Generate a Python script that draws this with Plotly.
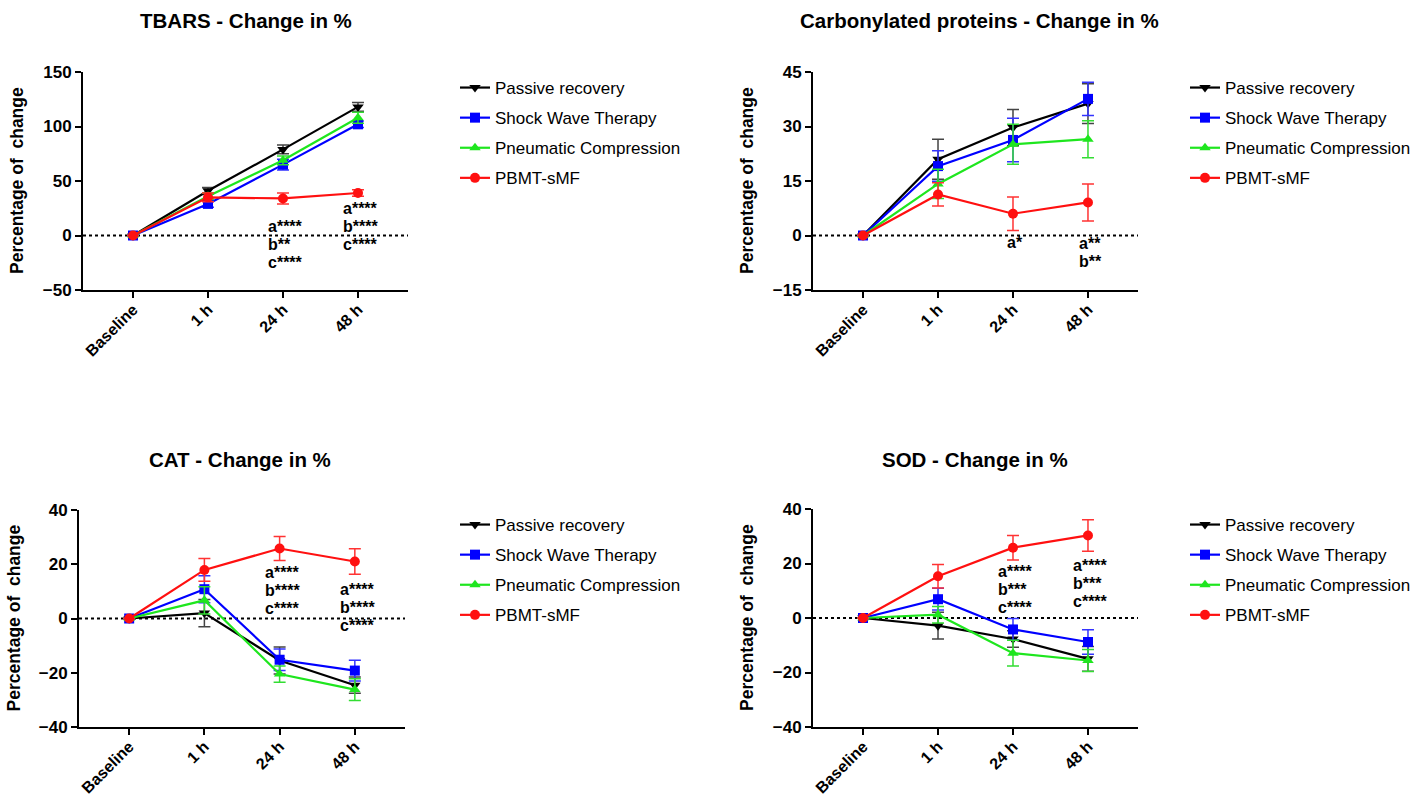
import plotly.graph_objects as go

W, H = 1419, 798

timepoints = ["Baseline", "1 h", "24 h", "48 h"]
groups = ["Passive recovery", "Shock Wave Therapy", "Pneumatic Compression", "PBMT-sMF"]

# TBARS
tbars_passive = [0, 41, 79, 118]
tbars_passive_err = [0, 3, 4, 4]
tbars_swt = [0, 29, 65, 102]
tbars_swt_err = [0, 3, 5, 3]
tbars_pneu = [0, 36, 69, 108]
tbars_pneu_err = [0, 3, 4, 5]
tbars_pbmt = [0, 35, 34, 39]
tbars_pbmt_err = [0, 4, 5, 3]

# Carbonylated proteins
carb_passive = [0, 21.0, 29.7, 36.3]
carb_passive_err = [0, 5.5, 5.0, 5.5]
carb_swt = [0, 19.1, 26.3, 37.6]
carb_swt_err = [0, 4.2, 6.0, 4.6]
carb_pneu = [0, 14.2, 25.1, 26.5]
carb_pneu_err = [0, 4.0, 5.5, 5.1]
carb_pbmt = [0, 11.3, 6.0, 9.1]
carb_pbmt_err = [0, 3.2, 4.6, 5.1]

# CAT
cat_passive = [0, 2.0, -15.5, -24.6]
cat_passive_err = [0, 5.0, 5.0, 3.0]
cat_swt = [0, 10.8, -15.2, -19.2]
cat_swt_err = [0, 5.0, 4.0, 3.8]
cat_pneu = [0, 6.7, -20.5, -26.2]
cat_pneu_err = [0, 5.0, 3.0, 4.0]
cat_pbmt = [0, 17.9, 25.8, 21.0]
cat_pbmt_err = [0, 4.2, 4.4, 4.7]

# SOD
sod_passive = [0, -2.8, -7.7, -15.0]
sod_passive_err = [0, 4.9, 3.0, 4.5]
sod_swt = [0, 6.9, -4.2, -8.8]
sod_swt_err = [0, 4.0, 4.0, 4.5]
sod_pneu = [0, 1.2, -12.9, -15.6]
sod_pneu_err = [0, 3.0, 4.7, 4.0]
sod_pbmt = [0, 15.3, 25.8, 30.3]
sod_pbmt_err = [0, 4.3, 4.5, 5.8]

titles = ["TBARS - Change in %", "Carbonylated proteins - Change in %",
          "CAT - Change in %", "SOD - Change in %"]
y_ranges = [[-50, 150], [-15, 45], [-40, 40], [-40, 40]]
y_dticks = [50, 15, 20, 20]

# significance labels: (timepoint, lines, y-centre in data units)
sig_tbars = [("24 h", ["a****", "b**", "c****"], -8.7), ("48 h", ["a****", "b****", "c****"], 8.7)]
sig_carb = [("24 h", ["a*"], -1.8), ("48 h", ["a**", "b**"], -4.7)]
sig_cat = [("24 h", ["a****", "b****", "c****"], 10.5), ("48 h", ["a****", "b****", "c****"], 3.9)]
sig_sod = [("24 h", ["a****", "b***", "c****"], 10.3), ("48 h", ["a****", "b***", "c****"], 12.5)]

panels = [
    [(tbars_passive, tbars_passive_err), (tbars_swt, tbars_swt_err), (tbars_pneu, tbars_pneu_err), (tbars_pbmt, tbars_pbmt_err)],
    [(carb_passive, carb_passive_err), (carb_swt, carb_swt_err), (carb_pneu, carb_pneu_err), (carb_pbmt, carb_pbmt_err)],
    [(cat_passive, cat_passive_err), (cat_swt, cat_swt_err), (cat_pneu, cat_pneu_err), (cat_pbmt, cat_pbmt_err)],
    [(sod_passive, sod_passive_err), (sod_swt, sod_swt_err), (sod_pneu, sod_pneu_err), (sod_pbmt, sod_pbmt_err)],
]
sigs = [sig_tbars, sig_carb, sig_cat, sig_sod]

colors = ["#000000", "#0000FF", "#1EE61E", "#FF1010"]
err_colors = ["#444444", "#3333FF", "#33DD33", "#FF3333"]
symbols = ["triangle-down", "square", "triangle-up", "circle"]

# pixel geometry of each panel: (x_left, x_right, y_top, y_bottom)
geom = [(83, 408, 72, 290), (813, 1138, 72, 290), (79, 405, 510, 727), (813, 1138, 509, 727)]
title_pos = [(246, 21), (979, 21), (240, 459), (975, 459)]
legend_pos = [(455, 70), (1185, 70), (455, 507), (1185, 507)]

FONT = "Liberation Sans, Arial, sans-serif"
SIG_SIZE = 16
SIG_LINE = 18

fig = go.Figure()
for p in range(4):
    xa = "x" if p == 0 else f"x{p+1}"
    ya = "y" if p == 0 else f"y{p+1}"
    leg = "legend" if p == 0 else f"legend{p+1}"
    for g in range(4):
        vals, errs = panels[p][g]
        fig.add_trace(go.Scatter(
            x=timepoints, y=vals, xaxis=xa, yaxis=ya, name=groups[g],
            legend=leg, legendgroup=f"{p}-{g}",
            mode="lines+markers",
            line=dict(color=colors[g], width=2.2),
            marker=dict(symbol=symbols[g], size=10, color=colors[g]),
            error_y=dict(type="data", array=errs, visible=True, color=err_colors[g],
                         thickness=1.5, width=6),
        ))

layout = dict(width=W, height=H,
              margin=dict(l=0, r=0, t=0, b=0, pad=0, autoexpand=False),
              paper_bgcolor="white", plot_bgcolor="white", showlegend=True,
              font=dict(family=FONT, color="black"))
annotations = []
shapes = []
for p in range(4):
    xl, xr, yt, yb = geom[p]
    xkey = "xaxis" if p == 0 else f"xaxis{p+1}"
    ykey = "yaxis" if p == 0 else f"yaxis{p+1}"
    xref = "x" if p == 0 else f"x{p+1}"
    yref = "y" if p == 0 else f"y{p+1}"
    layout[xkey] = dict(
        domain=[xl / W, xr / W], anchor=yref, type="category", automargin=False,
        range=[-0.667, 3.667], showgrid=False, zeroline=False,
        showline=True, linecolor="black", linewidth=2,
        ticks="outside", ticklen=6, tickwidth=2, tickcolor="black",
        tickangle=-45, ticklabelstandoff=-4,
        tickfont=dict(size=16, family=FONT, weight="bold"),
    )
    layout[ykey] = dict(
        domain=[1 - yb / H, 1 - yt / H], anchor=xref, automargin=False,
        range=y_ranges[p], dtick=y_dticks[p], tick0=0,
        showgrid=False, zeroline=False,
        showline=True, linecolor="black", linewidth=2,
        ticks="outside", ticklen=6, tickwidth=2, tickcolor="black",
        tickfont=dict(size=17, family=FONT, weight="bold"),
    )
    # y-axis title
    annotations.append(dict(
        text="<b>Percentage of  change</b>", textangle=-90,
        x=(xl - 66) / W, y=1 - ((yt + yb) / 2) / H, xref="paper", yref="paper",
        showarrow=False, font=dict(size=17.5, family=FONT), xanchor="center", yanchor="middle"))
    # panel title
    tx, ty = title_pos[p]
    annotations.append(dict(
        text=f"<b>{titles[p]}</b>", x=tx / W, y=1 - ty / H, xref="paper", yref="paper",
        showarrow=False, font=dict(size=20.5, family=FONT), xanchor="center", yanchor="middle"))
    # zero dotted line
    shapes.append(dict(type="line", xref=f"{xref} domain", yref=yref, x0=0, x1=1, y0=0, y1=0,
                       line=dict(color="black", width=2, dash="dot"), layer="below"))
    # significance labels (one annotation per line, left-aligned block centred on the time point)
    for tp, lines, yc in sigs[p]:
        block_w = max(SIG_SIZE * (0.556 + 0.389 * (len(ln) - 1)) for ln in lines)
        n = len(lines)
        for i, ln in enumerate(lines):
            annotations.append(dict(
                text=f"<b>{ln}</b>", x=tp, y=yc, xref=xref, yref=yref, showarrow=False,
                xanchor="left", yanchor="middle", xshift=-block_w / 2,
                yshift=((n - 1) / 2 - i) * SIG_LINE,
                font=dict(size=SIG_SIZE, family=FONT)))
    # legend
    lx, ly = legend_pos[p]
    lkey = "legend" if p == 0 else f"legend{p+1}"
    layout[lkey] = dict(
        x=lx / W, y=1 - ly / H, xanchor="left", yanchor="top", xref="paper", yref="paper",
        font=dict(size=17, family=FONT), bgcolor="rgba(0,0,0,0)",
        traceorder="grouped", tracegroupgap=5, itemwidth=30)

layout["annotations"] = annotations
layout["shapes"] = shapes
fig.update_layout(**layout)
fig.write_html("out.html", config={"displayModeBar": False},
               post_script="document.body.style.margin='0px';")
